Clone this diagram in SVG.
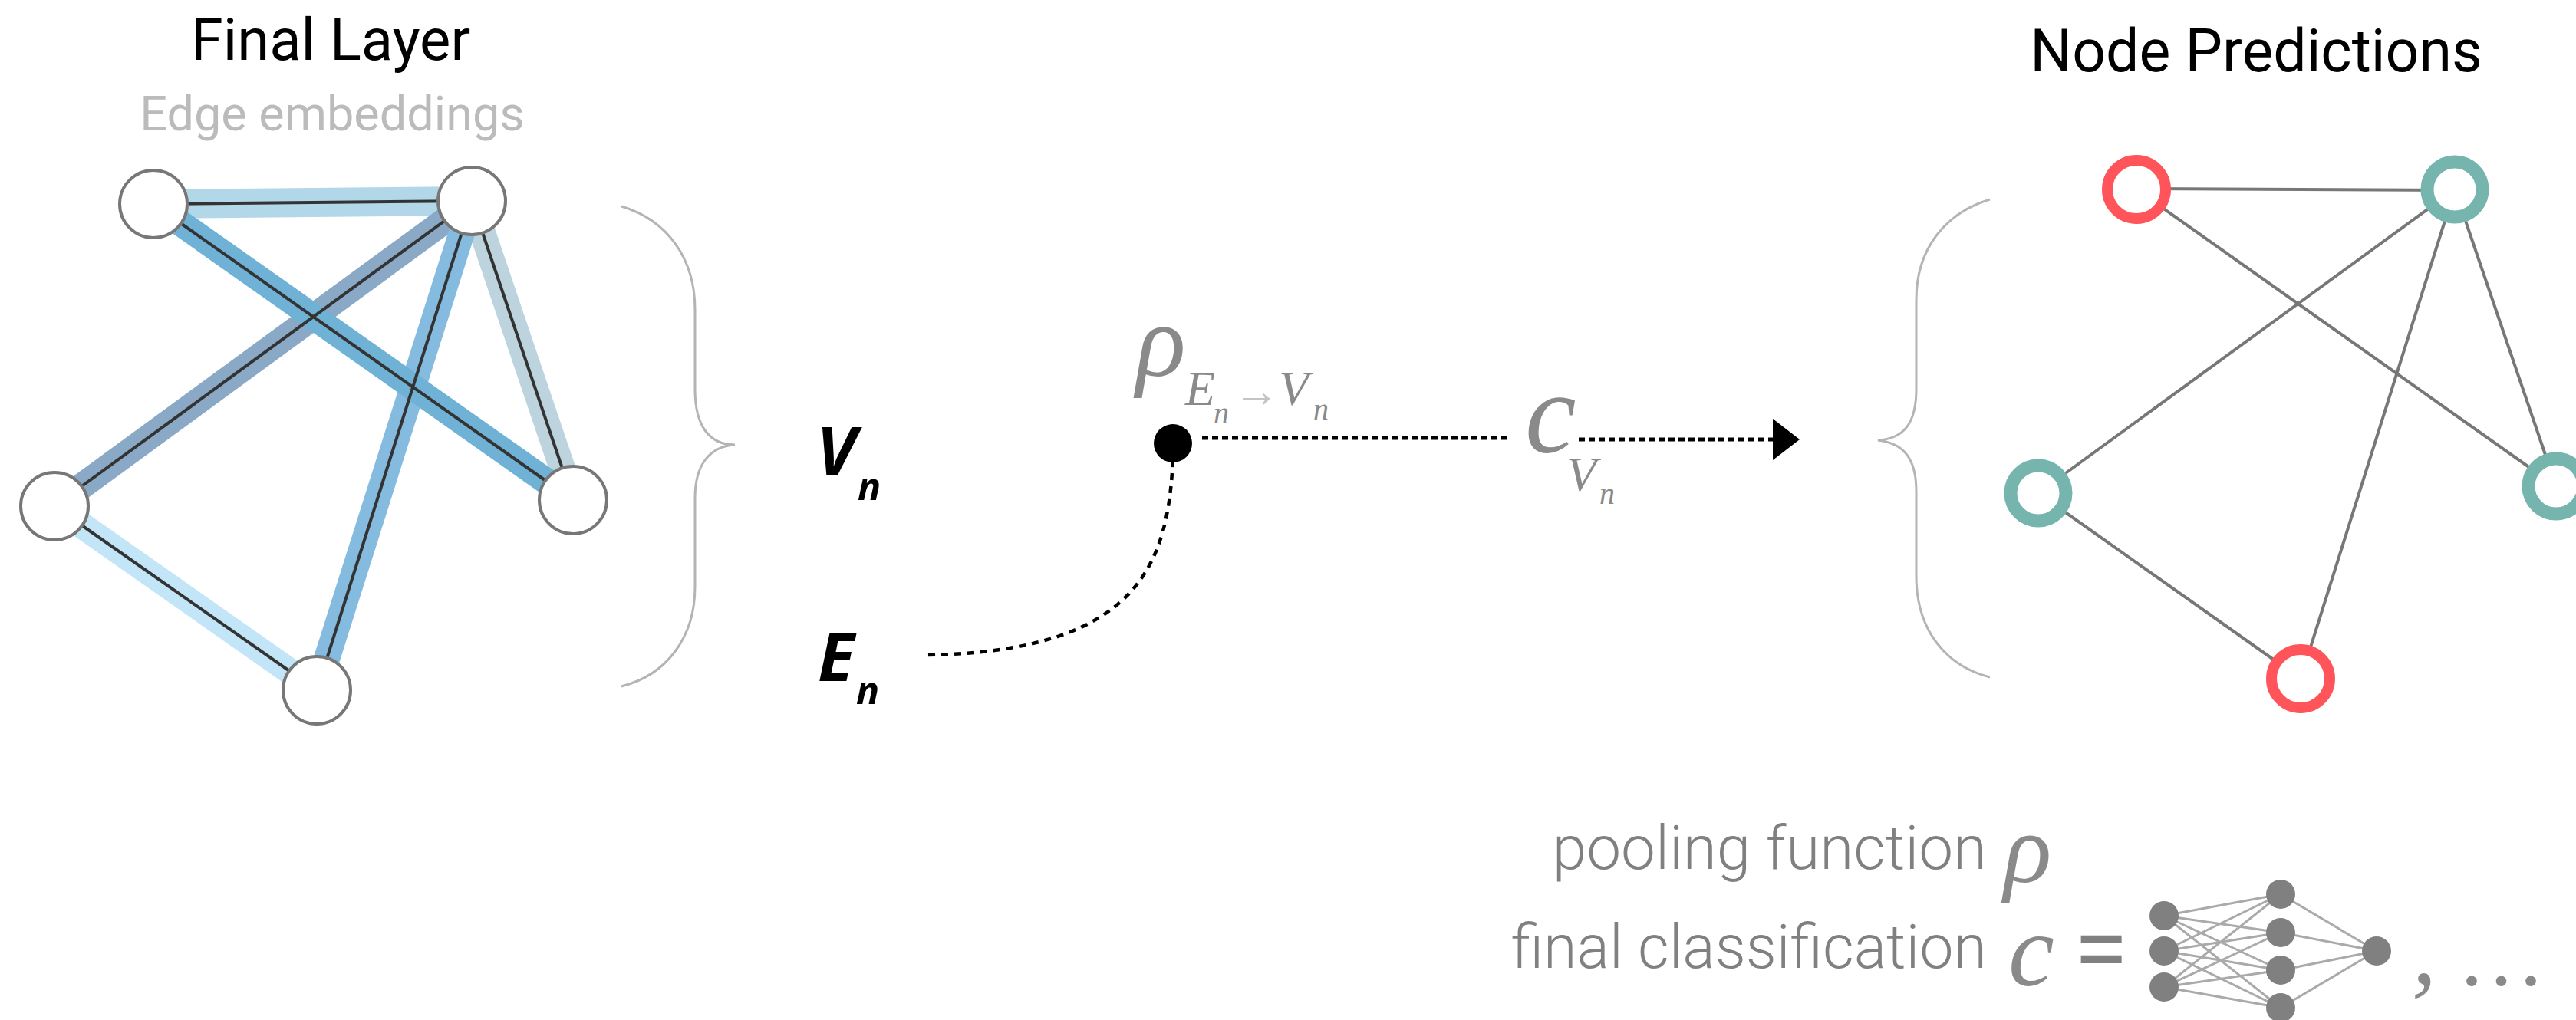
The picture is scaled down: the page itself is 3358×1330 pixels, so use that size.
<svg xmlns="http://www.w3.org/2000/svg" width="3358" height="1330" viewBox="0 0 3358 1330">
<style>
.t{font-family:Roboto,"Liberation Sans",sans-serif}
.m{font-family:"Liberation Serif",serif;font-style:italic;fill:#8a8a8a}
.b{font-family:"Open Sans","Liberation Sans",sans-serif;font-style:italic;font-weight:700;fill:#000}
.n1{fill:#fff;stroke:#777;stroke-width:4}
.e{fill:none;stroke-width:34}
.k{stroke:#333;stroke-width:4}
.g{stroke:#777;stroke-width:4}
.br{fill:none;stroke:#b4b4b4;stroke-width:3}
.r{fill:#fff;stroke:#ff5459;stroke-width:14}
.c{fill:#fff;stroke:#75b5ae;stroke-width:17}
.d{fill:none;stroke:#000;stroke-width:5;stroke-dasharray:8 5}
.nn{stroke:#aaa;stroke-width:3}
.nd{fill:#808080}
</style>
<rect width="3358" height="1330" fill="#fff"/>
<text class="t" x="431" y="78" font-size="76" fill="#000" text-anchor="middle">Final Layer</text>
<text class="t" x="433" y="170" font-size="63" fill="#bbb" text-anchor="middle">Edge embeddings</text>
<text class="t" x="2941" y="93" font-size="77" fill="#000" text-anchor="middle">Node Predictions</text>
<g id="connectors-left">
<line class="e" x1="200" y1="266" x2="615" y2="262" stroke="#b1d7e8" style="stroke-width:38"/>
<line class="e" x1="71" y1="660" x2="615" y2="262" stroke="#8aa9c6"/>
<line class="e" x1="615" y1="262" x2="747" y2="652" stroke="#bdd3de"/>
<line class="e" x1="615" y1="262" x2="413" y2="900" stroke="#84bbdf"/>
<line class="e" x1="200" y1="266" x2="747" y2="652" stroke="#6fb2d6"/>
<line class="e" x1="71" y1="660" x2="413" y2="900" stroke="#c2e6f7"/>
<line class="k" x1="200" y1="266" x2="615" y2="262"/>
<line class="k" x1="71" y1="660" x2="615" y2="262"/>
<line class="k" x1="615" y1="262" x2="747" y2="652"/>
<line class="k" x1="615" y1="262" x2="413" y2="900"/>
<line class="k" x1="200" y1="266" x2="747" y2="652"/>
<line class="k" x1="71" y1="660" x2="413" y2="900"/>
</g>
<g id="l1"><circle class="n1" cx="200" cy="266" r="44"/></g>
<g id="l2"><circle class="n1" cx="615" cy="262" r="44"/></g>
<g id="l3"><circle class="n1" cx="71" cy="660" r="44"/></g>
<g id="l4"><circle class="n1" cx="747" cy="652" r="44"/></g>
<g id="l5"><circle class="n1" cx="413" cy="900" r="44"/></g>
<g id="braces">
<path class="br" d="M810 269C870 287 906 337 906 404L906 508C906 556 925 580 958 580C925 582 906 606 906 649L906 765C906 830 870 880 810 895"/>
<path class="br" d="M2594 260C2535 278 2498 325 2498 391L2498 507C2498 552 2482 572 2448 574C2482 578 2498 598 2498 641L2498 751C2498 820 2535 868 2594 883"/>
</g>
<g id="connectors-right">
<line class="g" x1="2785" y1="246" x2="3200" y2="248"/>
<line class="g" x1="2785" y1="247" x2="3332" y2="634"/>
<line class="g" x1="2657" y1="643" x2="3200" y2="247"/>
<line class="g" x1="3200" y1="247" x2="3332" y2="634"/>
<line class="g" x1="3200" y1="247" x2="2999" y2="885"/>
<line class="g" x1="2657" y1="643" x2="2999" y2="885"/>
</g>
<g id="r1"><circle class="r" cx="2785" cy="247" r="38"/></g>
<g id="r2"><circle class="c" cx="3200" cy="247" r="36"/></g>
<g id="r3"><circle class="c" cx="2657" cy="643" r="36"/></g>
<g id="r4"><circle class="c" cx="3332" cy="634" r="36"/></g>
<g id="r5"><circle class="r" cx="2999" cy="885" r="38"/></g>
<g id="labels">
<text class="b" x="1064" y="620" font-size="88">V</text>
<text class="b" x="1118" y="652" font-size="50">n</text>
<text class="b" x="1066" y="888" font-size="88">E</text>
<text class="b" x="1116" y="918" font-size="50">n</text>
</g>
<g id="connectors-mid">
<line class="d" x1="1567" y1="571" x2="1964" y2="571"/>
<line class="d" x1="2058" y1="573" x2="2312" y2="573"/>
<polygon points="2311,546 2346,573 2311,600" fill="#000"/>
<path d="M1529 600C1522 730 1490 850 1207 854" fill="none" stroke="#000" stroke-width="4.5" stroke-dasharray="9 8"/>
</g>
<g id="pool"><circle cx="1529" cy="578" r="25" fill="#000"/></g>
<g id="math">
<text class="m" x="1481" y="490" font-size="135">ρ</text>
<text class="m" x="1545" y="528" font-size="64">E</text>
<text class="m" x="1582" y="552" font-size="40">n</text>
<text class="m" x="1608" y="530" font-size="60" style="fill:#c4c4c4;font-style:normal">→</text>
<text class="m" x="1667" y="528" font-size="64">V</text>
<text class="m" x="1712" y="547" font-size="40">n</text>
<text class="m" x="1988" y="590" font-size="150">c</text>
<text class="m" x="2042" y="640" font-size="64">V</text>
<text class="m" x="2085" y="657" font-size="40">n</text>
</g>
<g id="legend">
<text class="t" x="2590" y="1133" font-size="80" font-weight="300" fill="#808080" text-anchor="end">pooling function</text>
<text class="t" x="2590" y="1262" font-size="79" font-weight="300" fill="#808080" text-anchor="end">final classification</text>
<text class="m" x="2612" y="1150" font-size="130">ρ</text>
<text class="m" x="2618" y="1285" font-size="135">c</text>
<text class="t" x="2703" y="1281" font-size="130" fill="#808080">=</text>
<g id="nn-edges">
<path class="nn" d="M2821 1194L2973 1166M2821 1194L2973 1216M2821 1194L2973 1265M2821 1194L2973 1314M2821 1240L2973 1166M2821 1240L2973 1216M2821 1240L2973 1265M2821 1240L2973 1314M2821 1287L2973 1166M2821 1287L2973 1216M2821 1287L2973 1265M2821 1287L2973 1314M2973 1166L3098 1240M2973 1216L3098 1240M2973 1265L3098 1240M2973 1314L3098 1240"/>
</g>
<g class="nd">
<circle cx="2821" cy="1194" r="19"/><circle cx="2821" cy="1240" r="19"/><circle cx="2821" cy="1287" r="19"/>
<circle cx="2973" cy="1166" r="19"/><circle cx="2973" cy="1216" r="19"/><circle cx="2973" cy="1265" r="19"/><circle cx="2973" cy="1314" r="19"/>
<circle cx="3098" cy="1240" r="19"/>
</g>
<text class="m" x="3144" y="1282" font-size="130">,</text>
<text class="m" x="3203" y="1284" font-size="115" style="font-style:normal">…</text>
</g>
</svg>
